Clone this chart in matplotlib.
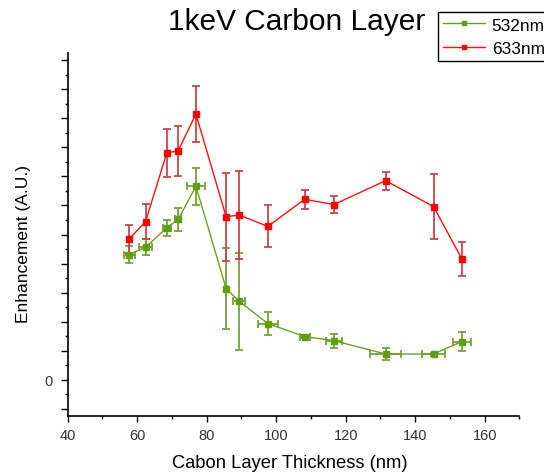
import matplotlib
matplotlib.use("Agg")
import matplotlib.pyplot as plt
from matplotlib.ticker import MultipleLocator

plt.rcParams['font.family'] = ['Liberation Sans', 'DejaVu Sans']

# Carbon layer thickness (nm)
thickness = [57.7, 62.4, 68.5, 71.8, 76.9, 85.6, 89.3, 97.6, 108.2, 116.6, 131.5, 145.3, 153.4]

# 532 nm enhancement with errors
g532 = [4.31, 4.56, 5.23, 5.52, 6.66, 3.14, 2.71, 1.94, 1.49, 1.35, 0.89, 0.89, 1.32]
g532_yerr = [0.30, 0.28, 0.28, 0.40, 0.63, 1.39, 1.67, 0.38, 0.05, 0.24, 0.20, 0.05, 0.34]
g532_xerr = [1.6, 1.9, 1.15, 0.95, 2.6, 0.3, 1.7, 2.9, 1.45, 2.4, 4.5, 3.3, 2.6]

# 633 nm enhancement with errors
r633 = [4.85, 5.44, 7.80, 7.88, 9.14, 5.61, 5.67, 5.28, 6.21, 6.03, 6.85, 5.96, 4.17]
r633_yerr = [0.48, 0.60, 0.81, 0.86, 0.96, 1.51, 1.51, 0.72, 0.32, 0.28, 0.31, 1.12, 0.58]

W, H = 544, 477
fig = plt.figure(figsize=(W/100, H/100), dpi=100)
ax_l, ax_r, ax_t, ax_b = 67.7, 519.4, 54, 417.3
ax = fig.add_axes([ax_l/W, 1-ax_b/H, (ax_r-ax_l)/W, (ax_b-ax_t)/H])

ax.errorbar(thickness, g532, yerr=g532_yerr, xerr=g532_xerr, fmt='none',
            ecolor='#76a03a', elinewidth=1.3, capsize=2.6, capthick=1.3, zorder=2)
ax.plot(thickness, g532, color='#6aa121', lw=1.0, marker='s', ms=4.0,
        mfc='#5fa010', mec='#5fa010', label='532nm', zorder=3)

ax.errorbar(thickness, r633, yerr=r633_yerr, fmt='none',
            ecolor='#c8454a', elinewidth=1.3, capsize=2.6, capthick=1.3, zorder=2)
ax.plot(thickness, r633, color='#ff1010', lw=1.0, marker='s', ms=3.8,
        mfc='#ff0000', mec='#ff0000', label='633nm', zorder=4)

ax.set_xlim(40, 170)
ax.set_ylim(-1.25, 11.24)

ax.xaxis.set_major_locator(MultipleLocator(20))
ax.xaxis.set_minor_locator(MultipleLocator(10))
ax.yaxis.set_major_locator(MultipleLocator(1))
ax.yaxis.set_minor_locator(MultipleLocator(0.5))
ax.yaxis.set_major_formatter(plt.FuncFormatter(lambda v, p: '0' if abs(v) < 1e-9 else ''))

ax.tick_params(axis='x', which='major', direction='out', length=4.3, width=1, labelsize=10.5,
               pad=4, labelcolor='#333333')
ax.tick_params(axis='x', which='minor', direction='out', length=2.3, width=1)
ax.tick_params(axis='y', which='major', direction='out', length=5, width=1, labelsize=10.5,
               pad=6, labelcolor='#333333')
ax.tick_params(axis='y', which='minor', direction='out', length=2.5, width=1)

for s in ['top', 'right']:
    ax.spines[s].set_visible(False)
for s in ['left', 'bottom']:
    ax.spines[s].set_linewidth(1.2)

fig.text(289.7/W, 1-468.3/H, 'Cabon Layer Thickness (nm)', fontsize=13.2,
         ha='center', va='baseline')
fig.text(23.3/W, 1-244/H, 'Enhancement (A.U.)', fontsize=12.5, rotation=90,
         ha='center', va='center')

fig.text(296.7/W, 1-21.7/H, '1keV Carbon Layer', fontsize=21.5, ha='center', va='center')

leg = fig.legend(loc='upper left', bbox_to_anchor=(438.3/W, 1-13.3/H), fontsize=12.4,
                 frameon=True, fancybox=False, edgecolor='black', framealpha=1,
                 handlelength=2.4, handletextpad=0.4, borderpad=0.3, labelspacing=0.5,
                 borderaxespad=0, numpoints=1, markerscale=0.8)
leg.get_frame().set_linewidth(1.0)

fig.savefig('out.png', dpi=100)
